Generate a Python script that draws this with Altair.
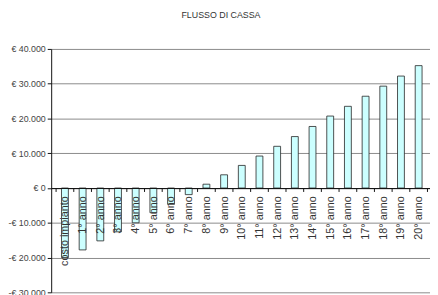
import altair as alt
import pandas as pd

categories = ["costo impianto"] + [f"{i}° anno" for i in range(1, 21)]
values = [-20000, -17800, -15200, -12600, -10000, -7100, -4700, -1900, 1100, 3800,
          6500, 9200, 12000, 14800, 17700, 20700, 23500, 26400, 29300, 32200, 35200]
y_ticks = [-30000, -20000, -10000, 0, 10000, 20000, 30000, 40000]

positions = [i + 0.5 for i in range(len(categories))]
boundaries = list(range(len(categories) + 1))

df = pd.DataFrame({"cat": categories, "val": values, "pos": positions})
bdf = pd.DataFrame({"b": boundaries})

H = 248
W = 386
BAND = 18.5
ymin, ymax = -30000, 40000
zero_offset = -H * (0 - ymin) / (ymax - ymin)
tick_len = 4 * (ymax - ymin) / H

y_label_expr = ("datum.value == 0 ? '€ 0' : (datum.value < 0 ? '-' : '') + '€ ' + "
                "replace(format(abs(datum.value), ','), ',', '.')")
cat_array = "[" + ",".join("'" + c + "'" for c in categories) + "]"
x_label_expr = cat_array + "[floor(datum.value)]"

xscale = alt.Scale(domain=[0, W / BAND], nice=False, zero=False)
yscale = alt.Scale(domain=[ymin, ymax], nice=False, zero=False)

x_axis = alt.Axis(offset=zero_offset, values=positions, labelExpr=x_label_expr,
                  labelAngle=270, labelFontSize=11, labelFont="Liberation Sans",
                  labelColor="#333333", labelPadding=8, ticks=False,
                  domainColor="#111111", labelOverlap=False, labelFlush=False,
                  labelBound=False, zindex=1, grid=False, title=None)
y_axis = alt.Axis(values=y_ticks, labelExpr=y_label_expr, labelFontSize=9,
                  labelFont="Liberation Sans", labelColor="#444444",
                  tickSize=4, labelPadding=2, domainColor="#111111",
                  tickColor="#111111", gridColor="#8a8a8a", gridWidth=1,
                  labelOverlap=False, labelFlush=False, domain=True, title=None)

bars = alt.Chart(df).mark_bar(
    color="#ccffff", stroke="#222222", strokeWidth=0.8, width=7
).encode(
    x=alt.X("pos:Q", title=None, scale=xscale, axis=x_axis),
    y=alt.Y("val:Q", title=None, scale=yscale, axis=y_axis),
)

ticks = alt.Chart(bdf).mark_rule(color="#111111", strokeWidth=1).encode(
    x=alt.X("b:Q", title=None, scale=xscale, axis=x_axis),
    y=alt.YDatum(0, scale=yscale, axis=y_axis),
    y2=alt.Y2Datum(-tick_len),
)

chart = alt.layer(bars, ticks).properties(
    width=W, height=H,
    autosize=alt.AutoSizeParams(type="none"),
    padding={"left": 44, "top": 39, "right": 0, "bottom": 0},
    title=alt.TitleParams("FLUSSO DI CASSA", fontSize=9, fontWeight="normal",
                          font="Liberation Sans", color="#333333", anchor="middle",
                          offset=26, dx=-20),
).configure_view(stroke=None)

chart.save("out.html", embed_options={"renderer": "svg", "actions": False})
